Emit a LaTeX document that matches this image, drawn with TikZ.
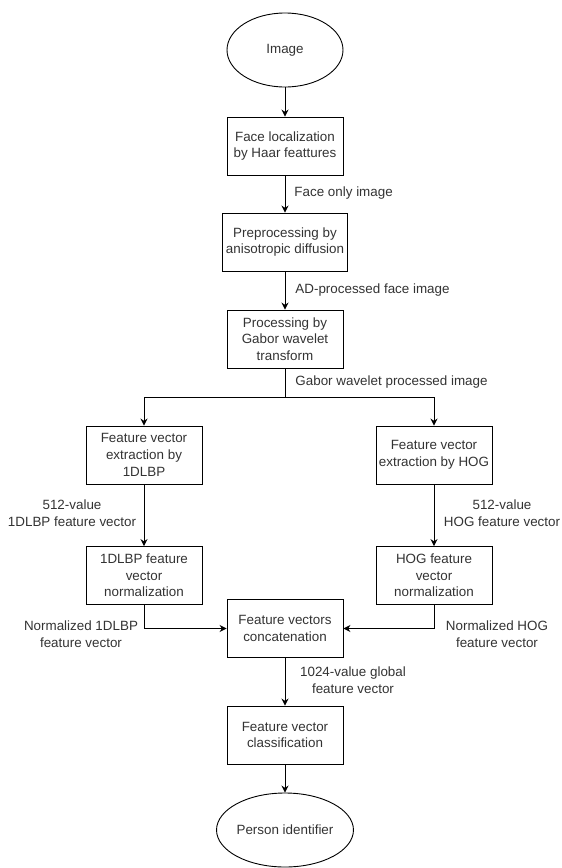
\documentclass[tikz,border=0pt]{standalone}
\usepackage{fontspec}
\setmainfont{Liberation Sans}
\usetikzlibrary{shapes.geometric,arrows.meta}

\tikzset{
  stepbox/.style={draw, rectangle, minimum width=116pt, minimum height=58pt, inner sep=0pt, align=center},
  endpoint/.style={draw, ellipse, minimum width=116pt, minimum height=74pt, inner sep=0pt, align=center},
  flow/.style={-{Stealth[length=7pt,width=7pt]}},
  lbl/.style={align=center, inner sep=0pt},
}

\begin{document}
\begin{tikzpicture}[x=1pt, y=-1pt, line width=0.9pt, font=\fontsize{13.4}{16.7}\selectfont, text=black!80]
        \useasboundingbox (0,0) rectangle (562,868);

        % Input image and the preprocessing chain
        \node[endpoint] (img) at (285,50) {Image};
        \node[stepbox] (haar) at (285,146) {Face localization\\by Haar feattures};
        \node[stepbox, minimum width=125pt] (aniso) at (285,242) {Preprocessing by\\anisotropic diffusion};
        \node[stepbox] (gabor) at (285,339) {Processing by\\Gabor wavelet\\transform};

        % The two feature branches
        \node[stepbox] (lbp) at (144,455) {Feature vector\\extraction by\\1DLBP};
        \node[stepbox] (hog) at (434,455) {Feature vector\\extraction by HOG};
        \node[stepbox] (lbpnorm) at (144,575.5) {1DLBP feature\\vector\\normalization};
        \node[stepbox] (hognorm) at (434,575.5) {HOG feature\\vector\\normalization};

        % Fusion and classification
        \node[stepbox] (concat) at (285,628.5) {Feature vectors\\concatenation};
        \node[stepbox] (classif) at (285,735) {Feature vector\\classification};
        \node[endpoint] (person) at (285,830) {Person identifier};

        % Connectors
        \coordinate (split) at (285,397);
        \draw[flow] (img) -- (haar);
        \draw[flow] (haar) -- (aniso);
        \draw[flow] (aniso) -- (gabor);
        \draw (gabor) -- (split);
        \draw[flow] (split) -| (lbp);
        \draw[flow] (split) -| (hog);
        \draw[flow] (lbp) -- (lbpnorm);
        \draw[flow] (hog) -- (hognorm);
        \draw[flow] (lbpnorm) |- (concat);
        \draw[flow] (hognorm) |- (concat);
        \draw[flow] (concat) -- (classif);
        \draw[flow] (classif) -- (person);

        % Edge labels
        \node[lbl, anchor=west] (lface) at (294,193) {Face only image};
        \node[lbl, anchor=west] (lad) at (295,290) {AD-processed face image};
        \node[lbl, anchor=west] (lgabor) at (295,382) {Gabor wavelet processed image};
        \node[lbl] (llbp) at (72,513) {512-value\\1DLBP feature vector};
        \node[lbl] (lhog) at (502,513) {512-value\\HOG feature vector};
        \node[lbl] (llbpnorm) at (81,634) {Normalized 1DLBP\\feature vector};
        \node[lbl] (lhognorm) at (497,634) {Normalized HOG\\feature vector};
        \node[lbl] (lglobal) at (353,680) {1024-value global\\feature vector};
    \end{tikzpicture}
\end{document}
